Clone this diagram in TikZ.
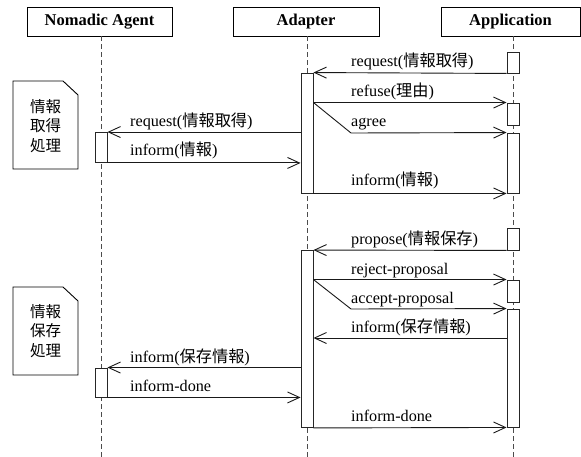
\documentclass[tikz,border=0pt]{standalone}
\usepackage{fontspec}
\setmainfont{Liberation Serif}
\newfontfamily\cjk{Noto Sans CJK JP}
\usetikzlibrary{arrows.meta}
\tikzset{
  head/.style={draw=black, line width=0.9pt, fill=white, minimum height=29pt, inner sep=0pt, font=\fontsize{16.5}{18}\selectfont\bfseries},
  life/.style={draw=black!70, line width=0.9pt, dash pattern=on 5pt off 3pt},
  actbox/.style={draw=black!85, line width=0.9pt, fill=white, minimum width=12pt, inner sep=0pt},
  msg/.style={draw=black!90, line width=0.9pt, -{Straight Barb[length=12pt,width=11pt,line width=0.9pt]}},
  lbl/.style={anchor=base west, inner sep=0pt, font=\fontsize{16.2}{18}\selectfont},
  notebox/.style={draw=black, line width=0.9pt, fill=white},
  notetxt/.style={align=center, font=\fontsize{15.5}{19.5}\selectfont\cjk, inner sep=0pt}
}
\begin{document}
\begin{tikzpicture}[x=1pt,y=-1pt]
\useasboundingbox (0,0) rectangle (581,457);
% headers
\node[head, minimum width=145pt] (na) at (99.5,21.5) {Nomadic Agent};
\node[head, minimum width=146pt] (ad) at (306,21.5) {Adapter};
\node[head, minimum width=139pt] (ap) at (510.5,21.5) {Application};
% lifelines
\coordinate (naEnd) at (101,457);
\coordinate (adEnd) at (307,457);
\coordinate (apEnd) at (513,457);
\draw[life] (na.south -| naEnd) -- (naEnd);
\draw[life] (ad.south -| adEnd) -- (adEnd);
\draw[life] (ap.south -| apEnd) -- (apEnd);
% notes
\draw[notebox] (13,81) -- (63,81) -- (78,95) -- (78,169) -- (13,169) -- cycle;
\node[notetxt] (n1) at (45.5,126) {情報\\取得\\処理};
\draw[notebox] (13,287) -- (63,287) -- (78,301) -- (78,375) -- (13,375) -- cycle;
\node[notetxt] (n2) at (45.5,331) {情報\\保存\\処理};
% activations section 1
\node[actbox, minimum height=21pt] (ap1) at (513,62.5) {};
\node[actbox, minimum height=120pt] (ad1) at (307,133) {};
\node[actbox, minimum height=22pt] (ap2) at (513,114) {};
\node[actbox, minimum height=60pt] (ap3) at (513,163) {};
\node[actbox, minimum height=30pt] (na1) at (101,147.5) {};
% messages section 1
\draw[msg] (ap1.south west) -- (ad1.north east);
\node[lbl] (l1) at (351,67) {request({\cjk 情報取得})};
\draw[msg] (ad1.east |- ap2.north) -- (ap2.north west);
\node[lbl] (l2) at (351,97) {refuse({\cjk 理由})};
\coordinate (k1) at (351,133);
\draw[msg] (ad1.east |- ap2.north) -- (k1) -- (ap3.north west);
\node[lbl] (l3) at (351,127) {agree};
\draw[msg] (ad1.west |- na1.north) -- (na1.north east);
\node[lbl] (l4) at (130,127) {request({\cjk 情報取得})};
\draw[msg] (na1.south east) -- (ad1.west |- na1.south);
\node[lbl] (l5) at (130,156) {inform({\cjk 情報})};
\draw[msg] (ad1.south east) -- (ap3.south west);
\node[lbl] (l6) at (351,186) {inform({\cjk 情報})};
% activations section 2
\node[actbox, minimum height=22pt] (ap4) at (513,239) {};
\node[actbox, minimum height=177pt] (ad2) at (307,339) {};
\node[actbox, minimum height=22pt] (ap5) at (513,291) {};
\node[actbox, minimum height=118pt] (ap6) at (513,368) {};
\node[actbox, minimum height=29pt] (na2) at (101,382.5) {};
% messages section 2
\draw[msg] (ap4.south west) -- (ad2.north east);
\node[lbl] (m1) at (351,244) {propose({\cjk 情報保存})};
\draw[msg] (ad2.east |- ap5.north) -- (ap5.north west);
\node[lbl] (m2) at (351,274) {reject-proposal};
\coordinate (k2) at (351,309);
\draw[msg] (ad2.east |- ap5.north) -- (k2) -- (ap6.north west);
\node[lbl] (m3) at (351,303) {accept-proposal};
\coordinate (s1) at (0,338);
\draw[msg] (ap6.west |- s1) -- (ad2.east |- s1);
\node[lbl] (m4) at (351,332) {inform({\cjk 保存情報})};
\draw[msg] (ad2.west |- na2.north) -- (na2.north east);
\node[lbl] (m5) at (130,362) {inform({\cjk 保存情報})};
\draw[msg] (na2.south east) -- (ad2.west |- na2.south);
\node[lbl] (m6) at (130,391) {inform-done};
\draw[msg] (ad2.south east) -- (ap6.south west);
\node[lbl] (m7) at (351,421) {inform-done};
\end{tikzpicture}
\end{document}
